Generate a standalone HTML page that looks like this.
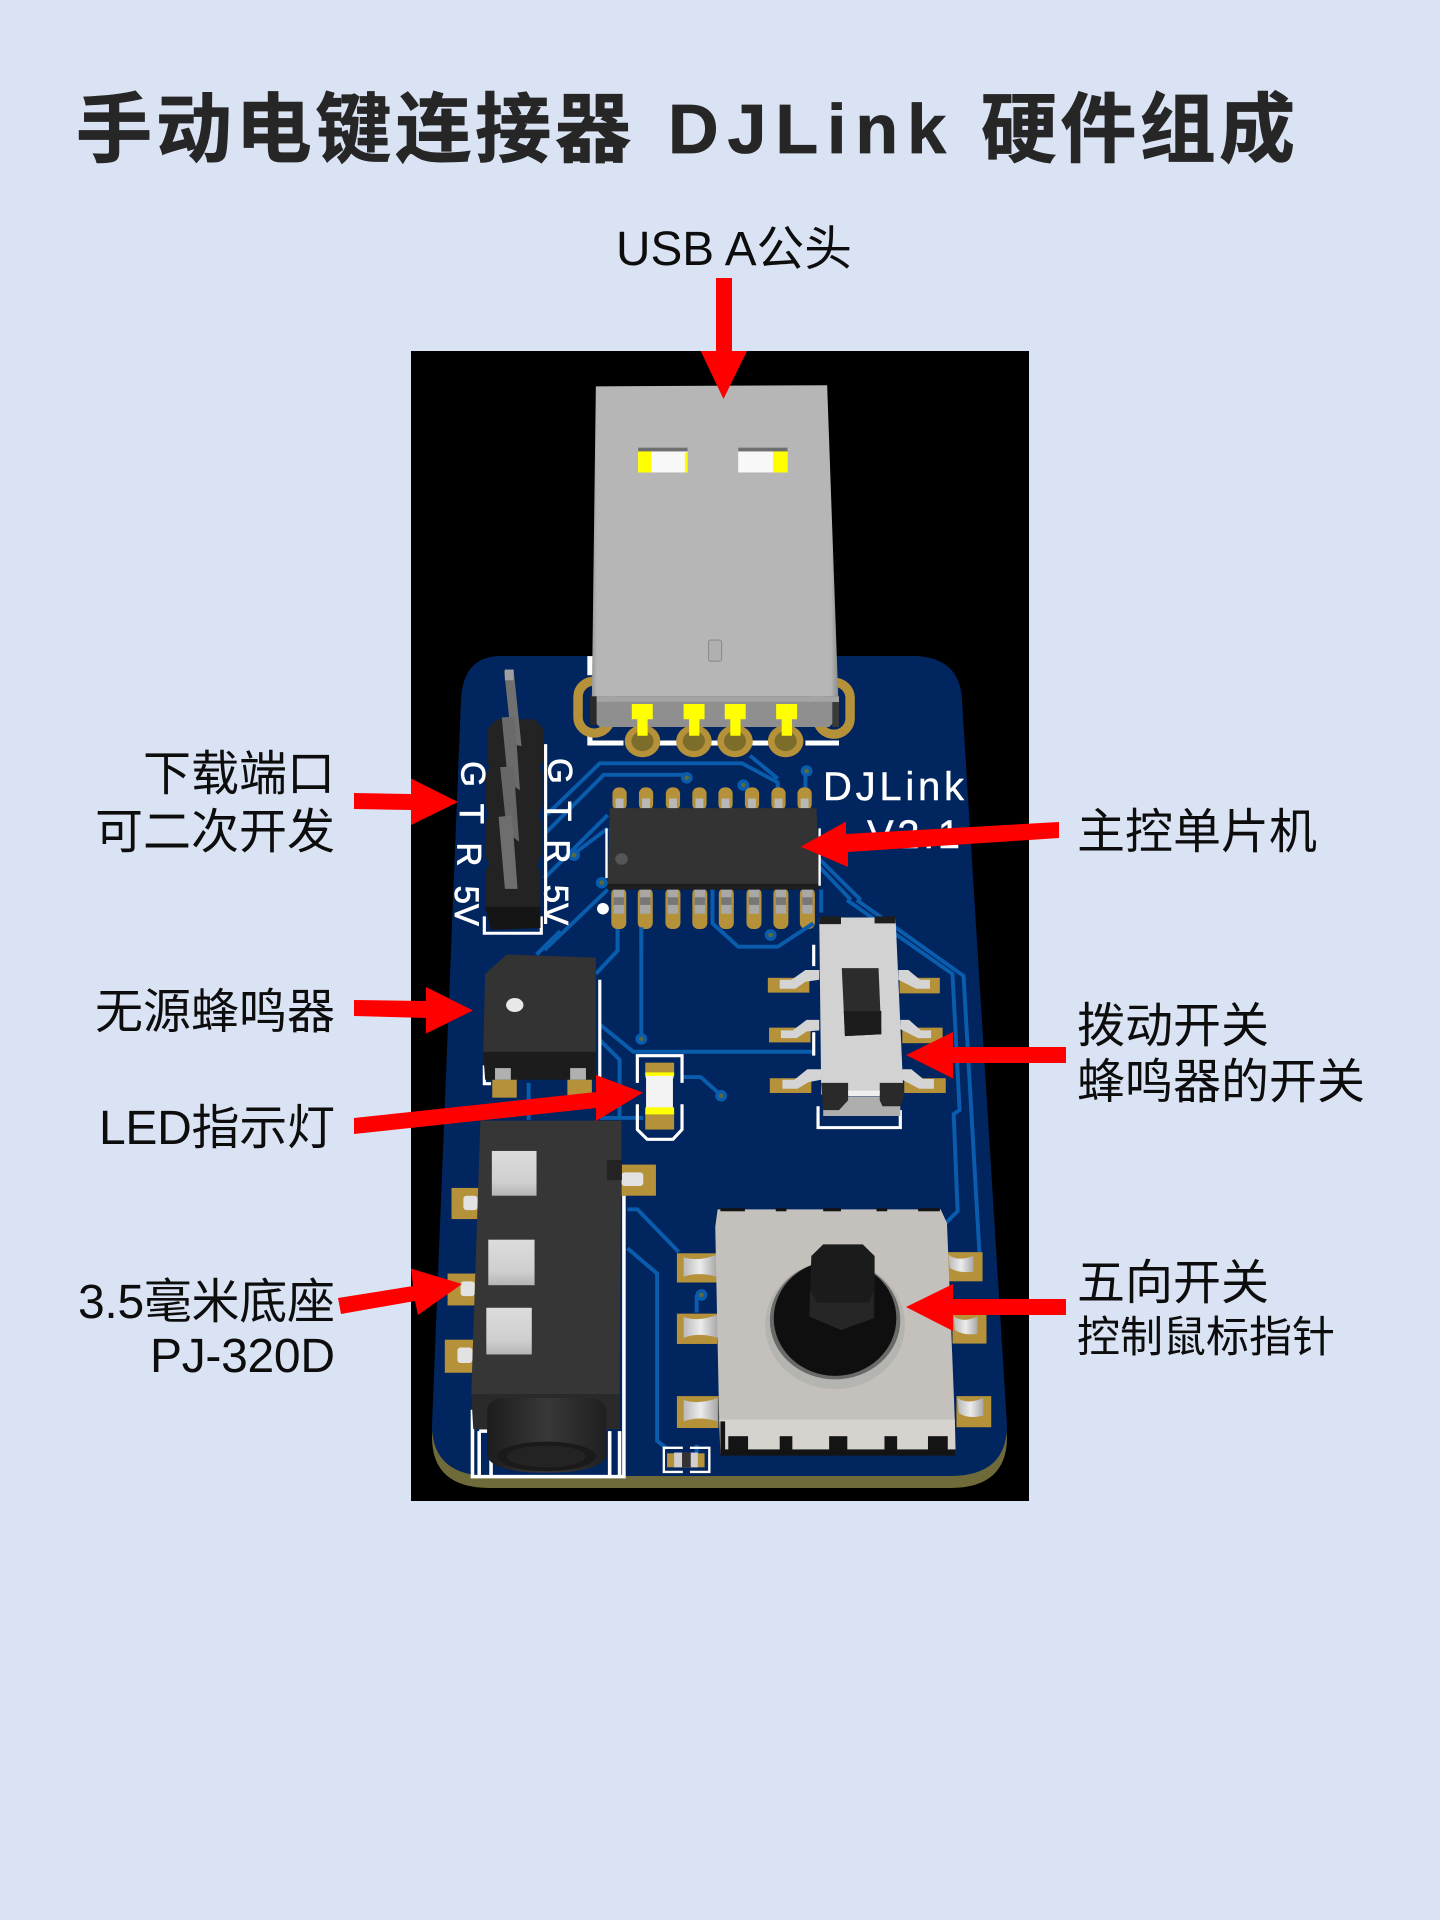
<!DOCTYPE html>
<html lang="zh"><head><meta charset="utf-8"><title>DJLink 硬件组成</title>
<style>
html,body{margin:0;padding:0;background:#dae3f3}
svg{display:block}
.l{font-family:"Liberation Sans","Noto Sans CJK SC",sans-serif;font-size:48px;fill:#0d0d0d}
.t{font-family:"Liberation Sans","Noto Sans CJK SC",sans-serif;font-size:76px;font-weight:700;fill:#262626;stroke:#262626;stroke-width:.8}
.s{font-family:"Liberation Sans",sans-serif;fill:#fff}
.tr{fill:none;stroke:#0a5cad;stroke-width:10;stroke-linejoin:miter}
.si{fill:none;stroke:#fff;stroke-width:9}
</style></head><body>
<svg width="1440" height="1920" viewBox="0 0 1440 1920" xmlns="http://www.w3.org/2000/svg">
<defs>
<linearGradient id="sv" x1="0" x2="1" y1="0" y2="0"><stop offset="0" stop-color="#b9b9b9"/><stop offset=".5" stop-color="#ececec"/><stop offset="1" stop-color="#a8a8a8"/></linearGradient>
<linearGradient id="win" x1="0" x2="0" y1="0" y2="1"><stop offset="0" stop-color="#dcdcdc"/><stop offset=".7" stop-color="#cfcfcf"/><stop offset="1" stop-color="#b4b4b4"/></linearGradient>
<linearGradient id="bar" x1="0" x2="1" y1="0" y2="0"><stop offset="0" stop-color="#1c1c1c"/><stop offset=".5" stop-color="#383838"/><stop offset="1" stop-color="#1f1f1f"/></linearGradient>
<linearGradient id="usb" x1="0" x2="1" y1="0" y2="0"><stop offset="0" stop-color="#999"/><stop offset=".02" stop-color="#b6b6b6"/><stop offset=".97" stop-color="#b6b6b6"/><stop offset="1" stop-color="#8c8c8c"/></linearGradient>
</defs>
<rect width="1440" height="1920" fill="#dae3f3"/>

<!-- Title -->
<text class="t" x="76" y="156" textLength="555" lengthAdjust="spacing">手动电键连接器</text>
<text class="t" x="668" y="153" textLength="278" lengthAdjust="spacing" style="font-size:70px">DJLink</text>
<text class="t" x="981" y="156" textLength="314" lengthAdjust="spacing">硬件组成</text>

<!-- Black backdrop -->
<rect x="411" y="351" width="618" height="1150" fill="#000"/>

<!-- PCB -->
<path d="M501 668H916Q960 668 962 706L1007 1437Q1007 1488 950 1488H490Q432 1488 432 1437L461 706Q463 668 501 668Z" fill="#6e6a3a"/>
<path d="M501 656H916Q960 658 962 700L1007 1425Q1007 1476 950 1476H490Q432 1476 432 1425L461 700Q463 656 501 656Z" fill="#01255f"/>

<!-- UPPER -->
<g transform="translate(410,350) scale(.3954,.3827)">
  <!-- traces -->
  <path class="tr" d="M345 1215L480 1080H840L930 1130V1150M860 1060L930 1120M345 1260L490 1110H700M1000 1100V1150M340 1380L500 1215M410 1320L500 1250M340 1568L500 1410M1035 1330L1140 1437M1035 1350L1115 1437M1040 1410V1470M765 1410V1500M525 1510V1568M585 1510V1568"/>
  <g fill="#0a5cad"><ellipse cx="700" cy="1118" rx="15" ry="15"/><ellipse cx="843" cy="1137" rx="15" ry="15"/><ellipse cx="1003" cy="1100" rx="15" ry="15"/><ellipse cx="415" cy="1320" rx="15" ry="15"/><ellipse cx="485" cy="1392" rx="15" ry="15"/></g>
  <g fill="#5a6a3a"><circle cx="700" cy="1118" r="6"/><circle cx="843" cy="1137" r="6"/><circle cx="1003" cy="1100" r="6"/><circle cx="415" cy="1320" r="6"/><circle cx="485" cy="1392" r="6"/></g>
  <!-- silk -->
  <path class="si" d="M455 800V850M455 1000V1027H540M630 1027H680M760 1027H790M865 1027H910M1000 1027H1085" style="stroke-width:13"/>
  <!-- USB mount pads -->
  <rect x="425" y="865" width="82" height="136" rx="41" fill="none" stroke="#b5913a" stroke-width="24"/>
  <rect x="1031" y="868" width="82" height="136" rx="41" fill="none" stroke="#b5913a" stroke-width="24"/>
  <!-- USB shell -->
  <path d="M470 95L1055 92L1083 905L460 905Z" fill="url(#usb)"/>
  <path d="M468 905H1085V975H1070L1060 985H480L470 975Z" fill="#8f8f8f"/>
  <rect x="468" y="905" width="617" height="14" fill="#a4a4a4"/>
  <path d="M455 905H472V980H455Z" fill="#2a2a2a"/><path d="M1068 920H1085V985H1068Z" fill="#3a3a3a"/>
  <rect x="577" y="255" width="125" height="65" fill="#f8f8f8"/><rect x="577" y="262" width="33" height="58" fill="#ffff00"/><rect x="695" y="268" width="7" height="52" fill="#ffff00"/><rect x="577" y="255" width="125" height="10" fill="#6f6f6f"/>
  <rect x="830" y="255" width="125" height="65" fill="#f8f8f8"/><rect x="918" y="264" width="37" height="56" fill="#ffff00"/><rect x="830" y="255" width="125" height="10" fill="#6f6f6f"/>
  <rect x="755" y="758" width="33" height="55" rx="5" fill="#b0b0b0" stroke="#8e8e8e" stroke-width="3"/>
  <!-- USB pins -->
  <g>
    <ellipse cx="588" cy="1022" rx="45" ry="42" fill="#b5913a"/><ellipse cx="718" cy="1022" rx="45" ry="42" fill="#b5913a"/><ellipse cx="822" cy="1022" rx="45" ry="42" fill="#b5913a"/><ellipse cx="950" cy="1022" rx="45" ry="42" fill="#b5913a"/>
    <ellipse cx="588" cy="1022" rx="28" ry="26" fill="#7c6d2a"/><ellipse cx="718" cy="1022" rx="28" ry="26" fill="#7c6d2a"/><ellipse cx="822" cy="1022" rx="28" ry="26" fill="#7c6d2a"/><ellipse cx="950" cy="1022" rx="28" ry="26" fill="#7c6d2a"/>
    <path d="M561 925H614V965H601V1008H575V965H561ZM692 925H745V965H732V1008H706V965H692ZM796 925H849V965H836V1008H810V965H796ZM926 925H979V965H966V1008H940V965H926Z" fill="#ffff00"/>
  </g>
  <!-- header -->
  <path class="si" d="M188 1480V1524H332V1480M343 1030V1500" style="stroke-width:8"/>
  <path d="M195 990L220 965H315L338 990V1070L328 1090L335 1110V1190L325 1215L332 1235V1320L322 1345L330 1365V1510L205 1515L190 1455V1360L200 1345L190 1320V1235L198 1215L192 1190V1110L200 1090L195 1070Z" fill="#232323"/>
  <path d="M190 1455H330V1510L205 1515Z" fill="#151515"/>
  <path d="M238 838L262 835L282 1035L258 1030Z" fill="#707070"/>
  <path d="M232 960L265 958L278 1150L248 1130Z" fill="#6a6a6a"/>
  <path d="M228 1090L262 1088L276 1285L245 1260Z" fill="#676767"/>
  <path d="M224 1220L258 1216L272 1408H240Z" fill="#6e6e6e"/>
  <rect x="240" y="835" width="22" height="28" fill="#a0a0a0"/>
  <!-- header labels -->
  <g class="s" font-size="86" text-anchor="middle" stroke="#fff" stroke-width="2">
    <text transform="translate(130,1108) rotate(90)">G</text>
    <text transform="translate(126,1212) rotate(90)">T</text>
    <text transform="translate(120,1318) rotate(90)">R</text>
    <text transform="translate(114,1452) rotate(90)">5V</text>
    <text transform="translate(350,1100) rotate(90)">G</text>
    <text transform="translate(348,1205) rotate(90)">T</text>
    <text transform="translate(344,1310) rotate(90)">R</text>
    <text transform="translate(340,1450) rotate(90)">5V</text>
  </g>
  <!-- IC pins top -->
  <g fill="#b5913a"><rect x="512" y="1143" width="36" height="60" rx="16"/><rect x="579" y="1143" width="36" height="60" rx="16"/><rect x="647" y="1143" width="36" height="60" rx="16"/><rect x="714" y="1143" width="36" height="60" rx="16"/><rect x="780" y="1143" width="36" height="60" rx="16"/><rect x="847" y="1143" width="36" height="60" rx="16"/><rect x="914" y="1143" width="36" height="60" rx="16"/><rect x="980" y="1143" width="36" height="60" rx="16"/></g>
  <g fill="#b8b8b8"><rect x="520" y="1172" width="20" height="25"/><rect x="587" y="1172" width="20" height="25"/><rect x="655" y="1172" width="20" height="25"/><rect x="722" y="1172" width="20" height="25"/><rect x="788" y="1172" width="20" height="25"/><rect x="855" y="1172" width="20" height="25"/><rect x="922" y="1172" width="20" height="25"/><rect x="988" y="1172" width="20" height="25"/></g>
  <!-- IC pins bottom -->
  <g fill="#b5913a"><rect x="509" y="1405" width="38" height="108" rx="16"/><rect x="576" y="1405" width="38" height="108" rx="16"/><rect x="646" y="1405" width="38" height="108" rx="16"/><rect x="714" y="1405" width="38" height="108" rx="16"/><rect x="781" y="1405" width="38" height="108" rx="16"/><rect x="851" y="1405" width="38" height="108" rx="16"/><rect x="919" y="1405" width="38" height="108" rx="16"/><rect x="986" y="1405" width="38" height="108" rx="16"/></g>
  <g fill="#a8a8a8"><rect x="515" y="1398" width="26" height="75"/><rect x="582" y="1398" width="26" height="75"/><rect x="652" y="1398" width="26" height="75"/><rect x="720" y="1398" width="26" height="75"/><rect x="787" y="1398" width="26" height="75"/><rect x="857" y="1398" width="26" height="75"/><rect x="925" y="1398" width="26" height="75"/><rect x="992" y="1398" width="26" height="75"/></g>
  <g fill="#777"><rect x="515" y="1430" width="26" height="20"/><rect x="582" y="1430" width="26" height="20"/><rect x="652" y="1430" width="26" height="20"/><rect x="720" y="1430" width="26" height="20"/><rect x="787" y="1430" width="26" height="20"/><rect x="857" y="1430" width="26" height="20"/><rect x="925" y="1430" width="26" height="20"/><rect x="992" y="1430" width="26" height="20"/></g>
  <!-- IC body -->
  <path d="M505 1197H1028L1035 1395H500Z" fill="#333"/>
  <path d="M500 1395H1035V1410H500Z" fill="#1e1e1e"/>
  <ellipse cx="535" cy="1330" rx="16" ry="15" fill="#555"/>
  <path class="si" d="M497 1250V1380M1036 1250V1400" style="stroke-width:6"/>
  <ellipse cx="488" cy="1460" rx="15" ry="15" fill="#fff"/>
</g>

<!-- Board text -->
<g class="s" font-size="40" stroke="#fff" stroke-width=".4">
  <text x="823" y="800" textLength="141" lengthAdjust="spacing">DJLink</text>
  <text x="867" y="848" textLength="93" lengthAdjust="spacing">V2.1</text>
</g>

<!-- LOWER -->
<g transform="translate(410,900) scale(.3954,.3891)">
  <!-- traces -->
  <path class="tr" d="M585 70V355M525 75V130L470 190M480 320L565 390H1020M480 360L530 410V560M480 560H590M690 455H735L785 500M1130 0L1400 195L1440 905M1105 0L1372 190L1390 540L1375 550L1385 800L1355 830M550 795H575L680 905M550 895L625 960V1390L650 1410M725 1060V1015M725 1400V1445M300 470V565M320 140L380 80M765 0V60L830 120H930L1020 60"/>
  <g fill="#0a5cad"><circle cx="585" cy="357" r="15"/><circle cx="787" cy="503" r="15"/><circle cx="737" cy="1015" r="15"/><circle cx="912" cy="90" r="15"/></g>
  <g fill="#5a6a3a"><circle cx="585" cy="357" r="6"/><circle cx="787" cy="503" r="6"/><circle cx="737" cy="1015" r="6"/><circle cx="912" cy="90" r="6"/></g>

  <!-- buzzer -->
  <path class="si" d="M480 205V510M188 425V472H205" style="stroke-width:8"/>
  <g fill="#b5913a"><rect x="208" y="460" width="62" height="48"/><rect x="398" y="460" width="62" height="48"/></g>
  <path d="M245 140L470 148V395H185L190 190Z" fill="#333"/>
  <path d="M185 390H470V462H190Z" fill="#1c1c1c"/>
  <g fill="#b0b0b0"><rect x="215" y="432" width="40" height="30"/><rect x="405" y="432" width="40" height="30"/></g>
  <ellipse cx="265" cy="270" rx="22" ry="18" fill="#e8e8e8"/>

  <!-- LED -->
  <path class="si" d="M575 470V400H688V470M575 525V590L600 615H665L688 590V525" style="stroke-width:8"/>
  <rect x="595" y="418" width="73" height="40" fill="#b5913a"/>
  <rect x="595" y="545" width="73" height="45" fill="#b5913a"/>
  <rect x="597" y="445" width="68" height="90" fill="#f3f3f3"/>
  <rect x="595" y="533" width="73" height="18" fill="#ffff00"/>
  <rect x="595" y="443" width="73" height="9" fill="#ffff00"/>

  <!-- switch -->
  <g fill="#b5913a"><rect x="905" y="200" width="105" height="38"/><rect x="908" y="328" width="105" height="38"/><rect x="910" y="458" width="105" height="38"/><rect x="1238" y="200" width="102" height="40"/><rect x="1245" y="328" width="102" height="40"/><rect x="1250" y="458" width="105" height="38"/></g>
  <g fill="#d4d4d4"><path d="M935 205H965L1000 180H1035V205L1000 210L975 228H935Z"/><path d="M938 335H968L1003 308H1035V335L1003 338L978 355H938Z"/><path d="M942 462H972L1005 435H1040V462L1008 468L980 485H942Z"/><path d="M1235 180H1260L1290 205H1315V228H1280L1235 205Z"/><path d="M1240 308H1262L1292 335H1318V355H1285L1240 332Z"/><path d="M1245 435H1268L1298 460H1325V485H1288L1245 462Z"/></g>
  <path class="si" d="M1021 115V170M1021 340V400M1032 530V585H1240V540" style="stroke-width:8"/>
  <path d="M1035 45H1228L1248 500H1040Z" fill="#d2d2d2"/>
  <path d="M1035 42H1090V62H1035ZM1175 42H1228V60H1175Z" fill="#1e1e1e"/>
  <path d="M1092 175H1185L1192 345L1100 350Z" fill="#2c2c2c"/>
  <path d="M1097 285L1192 285V345L1100 350Z" fill="#1c1c1c"/>
  <path d="M1045 505H1240V555H1045Z" fill="#aeaeae"/>
  <path d="M1040 470H1108V515L1085 540H1045ZM1188 470H1248V510L1240 530H1195L1188 515Z" fill="#2a2a2a"/>
  <rect x="1108" y="490" width="80" height="14" fill="#efefef"/>

  <!-- jack pads -->
  <g fill="#b5913a"><rect x="105" y="740" width="70" height="80"/><rect x="95" y="960" width="75" height="82"/><rect x="88" y="1130" width="75" height="85"/><rect x="535" y="680" width="87" height="80"/></g>
  <g fill="#e2e2e2"><rect x="135" y="760" width="36" height="37" rx="8"/><rect x="128" y="980" width="36" height="38" rx="8"/><rect x="120" y="1150" width="38" height="40" rx="8"/><rect x="535" y="700" width="55" height="35" rx="8"/></g>
  <!-- jack silk -->
  <path class="si" d="M541 760V1482H158V1310M175 1365H205V1478M175 1365V1478M505 1365V1478M530 1365V1478" style="stroke-width:9"/>
  <!-- jack -->
  <path d="M178 567H535L530 1270H155Z" fill="#363636"/>
  <path d="M155 1270H530V1360H160Z" fill="#2a2a2a"/>
  <rect x="498" y="668" width="38" height="52" fill="#232323"/>
  <rect x="207" y="645" width="113" height="115" fill="url(#win)"/>
  <rect x="198" y="873" width="117" height="117" fill="url(#win)"/>
  <rect x="193" y="1048" width="115" height="120" fill="url(#win)"/>
  <path d="M195 1320Q195 1280 240 1280H450Q497 1280 497 1320V1430Q480 1472 345 1472Q210 1472 195 1430Z" fill="url(#bar)"/>
  <ellipse cx="345" cy="1430" rx="125" ry="38" fill="#1a1a1a"/>
  <ellipse cx="345" cy="1430" rx="100" ry="28" fill="#232323"/>

  <!-- SMD resistor -->
  <path class="si" d="M690 1408H642V1470H690M708 1408H757V1470H708" style="stroke-width:6"/>
  <rect x="650" y="1422" width="95" height="36" fill="#b5913a"/>
  <rect x="668" y="1420" width="60" height="38" fill="#cfcfcf"/>
  <rect x="688" y="1420" width="22" height="38" fill="#333"/>

  <!-- 5-way pads -->
  <g fill="#b5913a"><rect x="675" y="908" width="100" height="75"/><rect x="675" y="1063" width="102" height="78"/><rect x="675" y="1275" width="105" height="82"/><rect x="1360" y="905" width="88" height="75"/><rect x="1372" y="1065" width="86" height="75"/><rect x="1382" y="1275" width="88" height="80"/></g>
  <g fill="url(#sv)"><path d="M692 918Q730 930 775 912V968Q730 955 692 968Z"/><path d="M692 1072Q730 1085 778 1066V1125Q730 1110 692 1125Z"/><path d="M692 1285Q730 1298 778 1280V1340Q730 1325 692 1340Z"/><path d="M1362 912Q1385 930 1425 915V955Q1385 960 1365 945Z"/><path d="M1375 1070Q1400 1088 1435 1070V1115Q1400 1120 1378 1105Z"/><path d="M1385 1280Q1410 1298 1450 1280V1325Q1410 1335 1388 1318Z"/></g>
  <!-- 5-way body -->
  <path d="M778 795H1342L1358 830L1378 1340L782 1340L772 840Z" fill="#c4c0bc"/>
  <path d="M782 1335H1378L1380 1425H785Z" fill="#d6d3cf"/>
  <g fill="#141414"><rect x="785" y="1340" width="12" height="88"/><rect x="785" y="1412" width="595" height="16"/><rect x="805" y="1378" width="50" height="45"/><rect x="935" y="1378" width="32" height="35"/><rect x="1060" y="1378" width="46" height="37"/><rect x="1200" y="1378" width="32" height="35"/><rect x="1310" y="1378" width="50" height="37"/><rect x="785" y="792" width="62" height="8"/><rect x="925" y="792" width="27" height="8"/><rect x="1045" y="792" width="45" height="8"/><rect x="1180" y="792" width="27" height="8"/><rect x="1285" y="792" width="55" height="8"/></g>
  <!-- stick -->
  <ellipse cx="1075" cy="1092" rx="177" ry="165" fill="#b4b4b0"/>
  <ellipse cx="1075" cy="1080" rx="165" ry="152" fill="#6a6a68"/>
  <ellipse cx="1075" cy="1075" rx="155" ry="148" fill="#0f0f0f"/>
  <path d="M1045 885H1145L1175 915V1075L1090 1105L1010 1070L1015 915Z" fill="#1b1b1b"/>
  <path d="M1012 1005L1030 1035H1160L1172 1005V1075L1090 1105L1010 1070Z" fill="#262626"/>
</g>

<!-- Arrows -->
<g fill="#ff0000">
  <polygon points="716,278 732,278 732,351 747,351 723.5,399 700.7,351 716,351"/>
  <polygon points="354,793 411,794 411,778.5 458,802 411,825 411,810 354,809"/>
  <polygon points="354,1000 426,1001 426,987 473,1010.5 426,1033.5 426,1018 354,1016"/>
  <polygon points="354,1118 596,1092 596,1075 643,1092.6 596,1121 596,1108 354,1134"/>
  <polygon points="338,1298 413,1286 411,1268.6 462,1284 418,1315 415,1301 341,1314"/>
  <polygon points="1059,822 846,834 846,821.5 800.7,846.7 848,867 848,852 1059,838"/>
  <polygon points="1066,1047 953,1047 953,1032 906,1055 953,1078.5 953,1063 1066,1063"/>
  <polygon points="1066,1299 953,1299 953,1284 906,1307 953,1331 953,1315 1066,1315"/>
</g>

<!-- Labels -->
<text class="l" x="616" y="265" textLength="236" lengthAdjust="spacingAndGlyphs">USB A公头</text>
<text class="l" x="335" y="790" text-anchor="end">下载端口</text>
<text class="l" x="335" y="848" text-anchor="end">可二次开发</text>
<text class="l" x="335" y="1028" text-anchor="end">无源蜂鸣器</text>
<text class="l" x="99" y="1144" textLength="236" lengthAdjust="spacing">LED指示灯</text>
<text class="l" x="78" y="1318" textLength="257" lengthAdjust="spacing">3.5毫米底座</text>
<text class="l" x="150" y="1372" textLength="185" lengthAdjust="spacing">PJ-320D</text>
<text class="l" x="1077" y="848">主控单片机</text>
<text class="l" x="1077" y="1042">拨动开关</text>
<text class="l" x="1077" y="1098">蜂鸣器的开关</text>
<text class="l" x="1077" y="1299">五向开关</text>
<text class="l" x="1077" y="1352" style="font-size:43px">控制鼠标指针</text>
</svg>
</body></html>
